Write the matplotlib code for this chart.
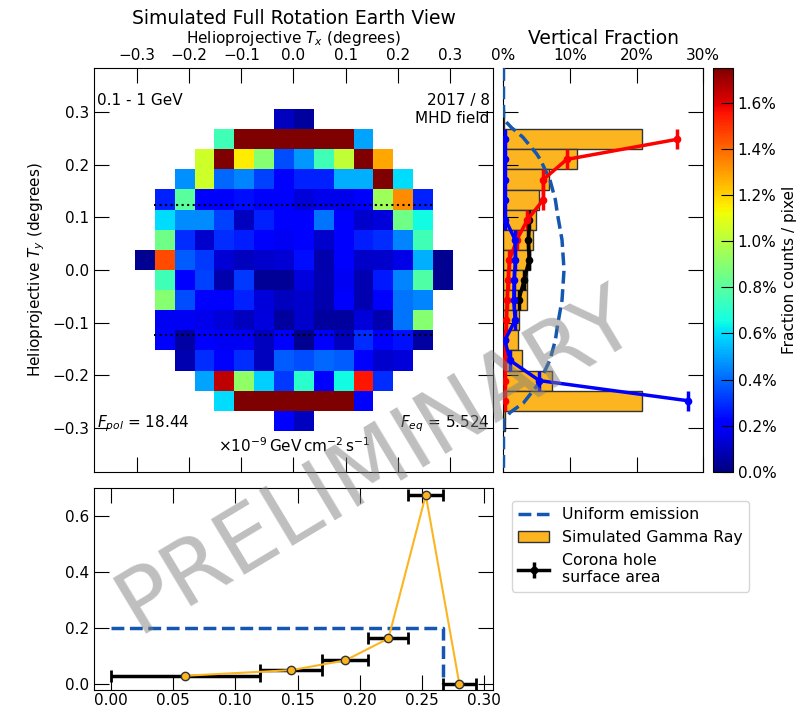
import numpy as np
import matplotlib.pyplot as plt

nan = np.nan

# fraction of counts per pixel (%), rows from top to bottom
flux_map = np.array([
    [nan, nan, nan, nan, nan, nan, nan, 0.10, 0.05, nan, nan, nan, nan, nan, nan, nan],
    [nan, nan, nan, nan, 0.75, 3.25, 3.25, 3.25, 3.25, 3.25, 3.25, 0.50, nan, nan, nan, nan],
    [nan, nan, nan, 1.05, 2.05, 1.15, 0.90, 0.35, 0.48, 0.75, 1.02, 2.05, 1.28, nan, nan, nan],
    [nan, nan, 0.47, 1.05, 0.40, 0.45, 0.33, 0.22, 0.28, 0.28, 0.52, 0.52, 1.80, 0.60, nan, nan],
    [nan, 0.28, 0.80, 0.20, 0.20, 0.24, 0.22, 0.20, 0.14, 0.17, 0.17, 0.22, 0.95, 1.33, 0.28, nan],
    [nan, 0.60, 0.46, 0.46, 0.33, 0.10, 0.28, 0.22, 0.22, 0.42, 0.22, 0.12, 0.14, 0.85, 0.65, nan],
    [nan, 0.85, 0.30, 0.12, 0.30, 0.27, 0.22, 0.18, 0.20, 0.12, 0.22, 0.27, 0.30, 0.45, 0.75, nan],
    [0.03, 1.45, 0.38, 0.32, 0.13, 0.10, 0.12, 0.13, 0.24, 0.07, 0.20, 0.11, 0.12, 0.16, 0.52, 0.03],
    [nan, 0.75, 0.22, 0.33, 0.07, 0.32, 0.04, 0.04, 0.15, 0.08, 0.18, 0.08, 0.26, 0.45, 0.78, 0.03],
    [nan, 0.90, 0.35, 0.22, 0.22, 0.28, 0.14, 0.10, 0.12, 0.07, 0.20, 0.08, 0.20, 0.42, 0.45, nan],
    [nan, 0.18, 0.18, 0.17, 0.14, 0.10, 0.15, 0.05, 0.12, 0.05, 0.05, 0.14, 0.08, 0.42, 0.90, nan],
    [nan, 0.20, 0.06, 0.22, 0.18, 0.18, 0.10, 0.22, 0.03, 0.22, 0.10, 0.30, 0.22, 0.25, 0.06, nan],
    [nan, nan, 0.08, 0.30, 0.20, 0.30, 0.10, 0.38, 0.35, 0.40, 0.38, 0.22, 0.12, 0.14, nan, nan],
    [nan, nan, nan, 0.50, 1.65, 0.92, 0.58, 0.32, 0.70, 0.22, 0.65, 1.55, 0.30, nan, nan, nan],
    [nan, nan, nan, nan, 0.60, 3.30, 3.30, 3.30, 3.30, 3.30, 3.30, 0.22, nan, nan, nan, nan],
    [nan, nan, nan, nan, nan, nan, nan, 0.20, 0.10, nan, nan, nan, nan, nan, nan, nan],
])
map_half = 0.305  # half width of the pixel grid (deg)

# vertical fraction per row (%), top to bottom
row_fraction = [0.15, 20.75, 11.1, 6.9, 5.4, 4.9, 4.4, 4.0, 3.6, 3.5, 2.4, 2.15, 2.85, 7.35, 20.75, 0.3]
north_frac = [26.1, 9.5, 6.0, 6.0, 3.6, 2.0, 0.9, 0.7, 0.55, 0.45, 0.3, 0.25, 0.25, 0.25]   # rows 1-14
south_frac = [0.2, 0.2, 0.2, 0.2, 0.3, 1.75, 1.8, 1.6, 1.55, 1.75, 0.2, 1.0, 5.4, 27.7]      # rows 1-14
hole_frac = [3.9, 3.75, 3.85, 3.1, 2.3]                                                     # rows 5-9

# uniform disk emission profile
uniform_y = [0.383, 0.286, 0.27, 0.252, 0.22, 0.208, 0.17, 0.133, 0.107, 0.057, 0.0,
             -0.057, -0.107, -0.133, -0.17, -0.208, -0.22, -0.252, -0.27, -0.286, -0.383]
uniform_x = [0, 0, 1.2, 2.9, 5.0, 5.6, 7.0, 7.8, 8.1, 8.8, 9.1,
             8.8, 8.1, 7.8, 7.0, 5.6, 5.0, 3.0, 1.0, 0, 0]

# bottom panel: fraction vs. distance bins
dist_edges = [0.0, 0.12, 0.17, 0.207, 0.239, 0.267, 0.293]
gamma_frac = [0.03, 0.05, 0.085, 0.163, 0.675, 0.0]
uniform_frac = [0.2, 0.2, 0.2, 0.2, 0.2, 0.0]

orange = '#fcb521'
dash_blue = '#1357b0'
tick_kw = dict(direction='in', top=True, bottom=True, left=True, right=True,
               length=11, labelsize=11)

fig = plt.figure(figsize=(8.02, 7.07), dpi=100)

# ---- sky map ----
ax = fig.add_axes([0.1172, 0.3324, 0.4975, 0.5714])
im = ax.imshow(flux_map, cmap='jet', vmin=0, vmax=1.75, origin='upper',
               extent=[-map_half, map_half, -map_half, map_half],
               interpolation='nearest', aspect='auto')
ax.plot([-0.267, 0.267], [0.123, 0.123], 'k:', lw=1.5)
ax.plot([-0.267, 0.267], [-0.123, -0.123], 'k:', lw=1.5)
ax.set_xlim(-0.383, 0.383)
ax.set_ylim(-0.383, 0.383)
ax.set_xticks(np.arange(-0.3, 0.31, 0.1))
ax.set_yticks(np.arange(-0.3, 0.31, 0.1))
ax.xaxis.tick_top()
ax.xaxis.set_label_position('top')
ax.tick_params(labeltop=True, labelbottom=False, **tick_kw)
ax.set_xlabel('Helioprojective $T_x$ (degrees)', fontsize=11)
ax.set_ylabel('Helioprojective $T_y$ (degrees)', fontsize=11)
ax.set_title('Simulated Full Rotation Earth View', fontsize=13.5, pad=3)
ax.text(-0.377, 0.322, '0.1 - 1 GeV', fontsize=11, va='center', ha='left')
ax.text(0.377, 0.322, '2017 / 8', fontsize=11, va='center', ha='right')
ax.text(0.377, 0.288, 'MHD field', fontsize=11, va='center', ha='right')
ax.text(-0.377, -0.292, '$F_{pol}$ = 18.44', fontsize=11, va='center', ha='left')
ax.text(0.377, -0.292, '$F_{eq}$ = 5.524', fontsize=11, va='center', ha='right')
ax.text(0.0, -0.333, r'$\times10^{-9}\,\mathrm{GeV\,cm^{-2}\,s^{-1}}$',
        fontsize=11, va='center', ha='center')

# ---- vertical fraction ----
cell = 2 * map_half / len(row_fraction)
row_y = map_half - cell * (np.arange(len(row_fraction)) + 0.5)

axv = fig.add_axes([0.6278, 0.3324, 0.2488, 0.5714])
bars = axv.barh(row_y, row_fraction, height=cell, color=orange,
                edgecolor='#333333', lw=1, label='Simulated Gamma Ray')
uni, = axv.plot(uniform_x, uniform_y, '--', color=dash_blue, lw=2.5, zorder=3,
                label='Uniform emission')
hole = axv.errorbar(hole_frac, row_y[5:10], yerr=cell / 2, fmt='o-', color='black',
                    lw=2.5, ms=4.5, elinewidth=2.5, zorder=4,
                    label='Corona hole\nsurface area')
axv.errorbar(north_frac, row_y[1:15], yerr=cell / 2, fmt='o-', color='red',
             lw=2.5, ms=4.5, elinewidth=2.5, zorder=4)
axv.errorbar(south_frac, row_y[1:15], yerr=cell / 2, fmt='o-', color='blue',
             lw=2.5, ms=4.5, elinewidth=2.5, zorder=4)
axv.set_xlim(0, 30)
axv.set_ylim(-0.383, 0.383)
axv.set_xticks([0, 10, 20, 30])
axv.set_xticklabels(['0%', '10%', '20%', '30%'])
axv.set_yticks(np.arange(-0.3, 0.31, 0.1))
axv.xaxis.tick_top()
axv.tick_params(labeltop=True, labelbottom=False, labelleft=False, **tick_kw)
axv.set_title('Vertical Fraction', fontsize=13.5, pad=3)

# ---- colorbar ----
cax = fig.add_axes([0.889, 0.3324, 0.0249, 0.5714])
cb = fig.colorbar(im, cax=cax)
cb.set_ticks(np.arange(0, 1.61, 0.2))
cb.set_ticklabels(['%.1f%%' % t for t in np.arange(0, 1.61, 0.2)])
cb.ax.tick_params(direction='in', length=9, labelsize=11)
cb.set_label('Fraction counts / pixel', fontsize=11)

# ---- fraction vs distance ----
edges = np.array(dist_edges)
centres = (edges[:-1] + edges[1:]) / 2
half_w = (edges[1:] - edges[:-1]) / 2

axb = fig.add_axes([0.1172, 0.024, 0.4975, 0.2857])
axb.plot(np.r_[edges[:6], edges[5]], np.r_[uniform_frac[:5], uniform_frac[4], uniform_frac[5]],
         '--', color=dash_blue, lw=2.5, drawstyle='steps-post')
axb.errorbar(centres, gamma_frac, xerr=half_w, fmt='none', ecolor='black',
             elinewidth=2.5, capsize=4, capthick=2)
axb.plot(centres, gamma_frac, 'o-', color=orange, lw=1.5, ms=6,
         mec='#333333', mfc=orange, zorder=4)
axb.set_xlim(-0.0135, 0.307)
axb.set_ylim(-0.021, 0.70)
axb.set_xticks(np.arange(0, 0.31, 0.05))
axb.set_yticks([0.0, 0.2, 0.4, 0.6])
axb.tick_params(**tick_kw)
axb.tick_params(axis='x', pad=2)

fig.legend([uni, bars, hole], ['Uniform emission', 'Simulated Gamma Ray',
                               'Corona hole\nsurface area'],
           loc='upper left', bbox_to_anchor=(0.638, 0.2914), borderaxespad=0,
           fontsize=11.3)

fig.text(0.47, 0.347, 'PRELIMINARY', rotation=31, fontsize=64, color='gray',
         alpha=0.5, ha='center', va='center')

fig.savefig('out.png', dpi=100)
